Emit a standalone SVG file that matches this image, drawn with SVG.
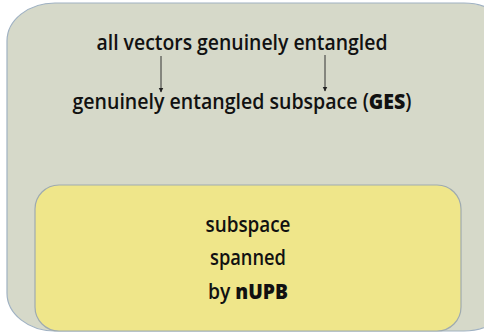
<svg xmlns="http://www.w3.org/2000/svg" width="484" height="335" viewBox="0 0 484 335">
<defs>
<style>
.t{font-family:"Open Sans","Noto Sans","DejaVu Sans",sans-serif;font-size:21px;font-weight:600;fill:#111;text-anchor:middle}
.b{font-weight:800}
.c{stroke:#333;stroke-width:1;fill:none}
</style>
<marker id="ah" viewBox="0 0 10 10" refX="9" refY="5" markerWidth="5" markerHeight="6" orient="auto" markerUnits="userSpaceOnUse">
<path d="M0,0 L10,5 L0,10 z" fill="#222"/>
</marker>
</defs>
<rect width="484" height="335" fill="#ffffff"/>
<g id="ges">
<rect x="7" y="3" width="505" height="328" rx="48" ry="38" fill="#d6d9c9" stroke="#9fb1c2" stroke-width="1.2"/>
<text class="t" x="242" y="50" textLength="291" lengthAdjust="spacingAndGlyphs">all vectors genuinely entangled</text>
<text class="t" x="242" y="109" textLength="339" lengthAdjust="spacingAndGlyphs">genuinely entangled subspace (<tspan class="b">GES</tspan>)</text>
</g>
<g id="nupb">
<rect x="35" y="185" width="426" height="146" rx="24" ry="24" fill="#efe68a" stroke="#9fabb0" stroke-width="1.2"/>
<text class="t" x="248" y="232" textLength="85" lengthAdjust="spacingAndGlyphs">subspace</text>
<text class="t" x="248" y="265" textLength="76" lengthAdjust="spacingAndGlyphs">spanned</text>
<text class="t" x="248" y="299" textLength="80" lengthAdjust="spacingAndGlyphs">by <tspan class="b">nUPB</tspan></text>
</g>
<g id="connectors">
<line class="c" x1="161" y1="56" x2="161" y2="92" marker-end="url(#ah)"/>
<line class="c" x1="325" y1="55" x2="325" y2="91" marker-end="url(#ah)"/>
</g>
</svg>
